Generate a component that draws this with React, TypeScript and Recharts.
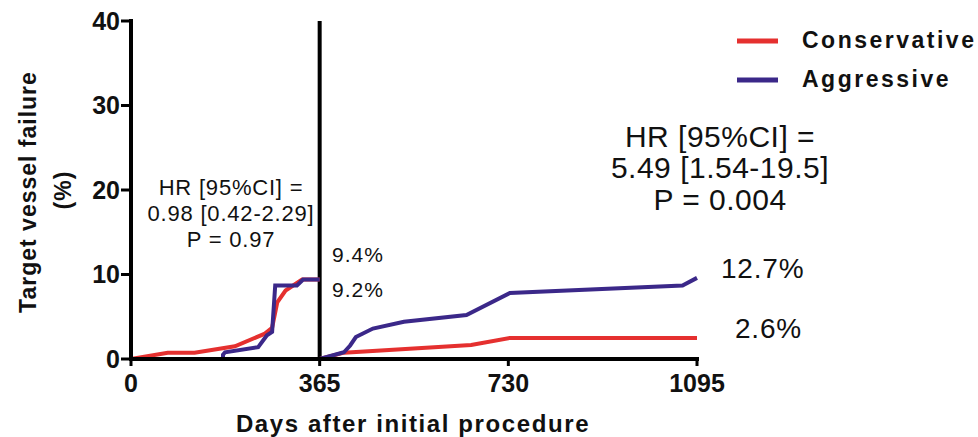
import { LineChart, Line, XAxis, YAxis, ReferenceLine } from 'recharts'

// Kaplan-Meier style cumulative incidence, landmark split at 1 year
const conservativeYear1Days = [0, 71, 123, 201, 259, 273, 283, 299, 331, 365]
const conservativeYear1Pct = [0, 0.75, 0.75, 1.5, 3.0, 3.7, 6.7, 8.1, 9.4, 9.4]

const aggressiveYear1Days = [0, 178, 178, 182, 246, 263, 273, 279, 321, 333, 365]
const aggressiveYear1Pct = [0, 0, 0.5, 0.8, 1.4, 2.8, 3.2, 8.7, 8.7, 9.4, 9.4]

const conservativeYear2Days = [365, 412, 658, 733, 1095]
const conservativeYear2Pct = [0, 0.75, 1.65, 2.5, 2.5]

const aggressiveYear2Days = [365, 412, 424, 435, 468, 528, 649, 733, 1067, 1095]
const aggressiveYear2Pct = [0, 0.8, 1.6, 2.6, 3.6, 4.4, 5.2, 7.8, 8.7, 9.6]

const xTicks = [0, 365, 730, 1095]
const yTicks = [0, 10, 20, 30, 40]

const RED = '#e5302f'
const BLUE = '#3b2889'
const FONT = '"Liberation Sans", Arial, sans-serif'

const toPoints = (days: number[], pct: number[]) =>
  days.map((day, i) => ({ day, pct: pct[i] }))

const series = [
  { key: 'c1', color: RED, data: toPoints(conservativeYear1Days, conservativeYear1Pct) },
  { key: 'a1', color: BLUE, data: toPoints(aggressiveYear1Days, aggressiveYear1Pct) },
  { key: 'c2', color: RED, data: toPoints(conservativeYear2Days, conservativeYear2Pct) },
  { key: 'a2', color: BLUE, data: toPoints(aggressiveYear2Days, aggressiveYear2Pct) },
]

const tickStyle = { fill: '#111', fontSize: 25, fontWeight: 'bold', fontFamily: FONT }

export default function App() {
  return (
    <div style={{ position: 'absolute', left: 0, top: 0, width: 978, height: 437, background: '#fff' }}>
      <LineChart width={978} height={437} margin={{ top: 21, right: 281, bottom: 0, left: 0 }}>
        <XAxis
          type="number"
          dataKey="day"
          domain={[0, 1095]}
          ticks={xTicks}
          height={78}
          tickSize={7}
          tickMargin={8}
          tick={tickStyle}
          axisLine={{ stroke: '#000', strokeWidth: 4, strokeLinecap: 'square' }}
          tickLine={{ stroke: '#000', strokeWidth: 3 }}
        />
        <YAxis
          type="number"
          dataKey="pct"
          domain={[0, 40]}
          ticks={yTicks}
          width={131}
          tickSize={10}
          tickMargin={1}
          tick={tickStyle}
          axisLine={{ stroke: '#000', strokeWidth: 4, strokeLinecap: 'square' }}
          tickLine={{ stroke: '#000', strokeWidth: 3 }}
        />
        <ReferenceLine x={365} stroke="#000" strokeWidth={4} />
        {series.map((s) => (
          <Line
            key={s.key}
            data={s.data}
            dataKey="pct"
            type="linear"
            stroke={s.color}
            strokeWidth={4}
            dot={false}
            activeDot={false}
            isAnimationActive={false}
          />
        ))}
      </LineChart>

      {/* annotations, legend and axis titles */}
      <svg
        width={978}
        height={437}
        style={{ position: 'absolute', left: 0, top: 0, pointerEvents: 'none' }}
        fontFamily={FONT}
      >
        <g fill="#111" fontWeight="bold" fontSize={23} letterSpacing={1} textAnchor="middle">
          <text transform="translate(36,192) rotate(-90)">Target vessel failure</text>
          <text transform="translate(71,190) rotate(-90)">(%)</text>
        </g>
        <text x={413} y={432} fill="#111" fontWeight="bold" fontSize={24} letterSpacing={1.6} textAnchor="middle">
          Days after initial procedure
        </text>

        <line x1={737} y1={41} x2={778} y2={41} stroke={RED} strokeWidth={5} />
        <line x1={737} y1={80} x2={778} y2={80} stroke={BLUE} strokeWidth={5} />
        <g fill="#111" fontWeight="bold" fontSize={23} letterSpacing={2.5}>
          <text x={802} y={48}>Conservative</text>
          <text x={802} y={87}>Aggressive</text>
        </g>

        <g fill="#111" fontSize={22} letterSpacing={0.8} textAnchor="middle">
          <text x={231} y={195}>HR [95%CI] =</text>
          <text x={231} y={221}>0.98 [0.42-2.29]</text>
          <text x={231} y={247}>P = 0.97</text>
        </g>

        <g fill="#111" fontSize={30} letterSpacing={0.5} textAnchor="middle">
          <text x={720} y={147}>HR [95%CI] =</text>
          <text x={720} y={178}>5.49 [1.54-19.5]</text>
          <text x={720} y={210}>P = 0.004</text>
        </g>

        <g fill="#111" fontSize={21} letterSpacing={1}>
          <text x={332} y={262}>9.4%</text>
          <text x={332} y={297}>9.2%</text>
        </g>

        <g fill="#111" fontSize={28} letterSpacing={0.8}>
          <text x={721} y={278}>12.7%</text>
          <text x={735} y={338}>2.6%</text>
        </g>
      </svg>
    </div>
  )
}
